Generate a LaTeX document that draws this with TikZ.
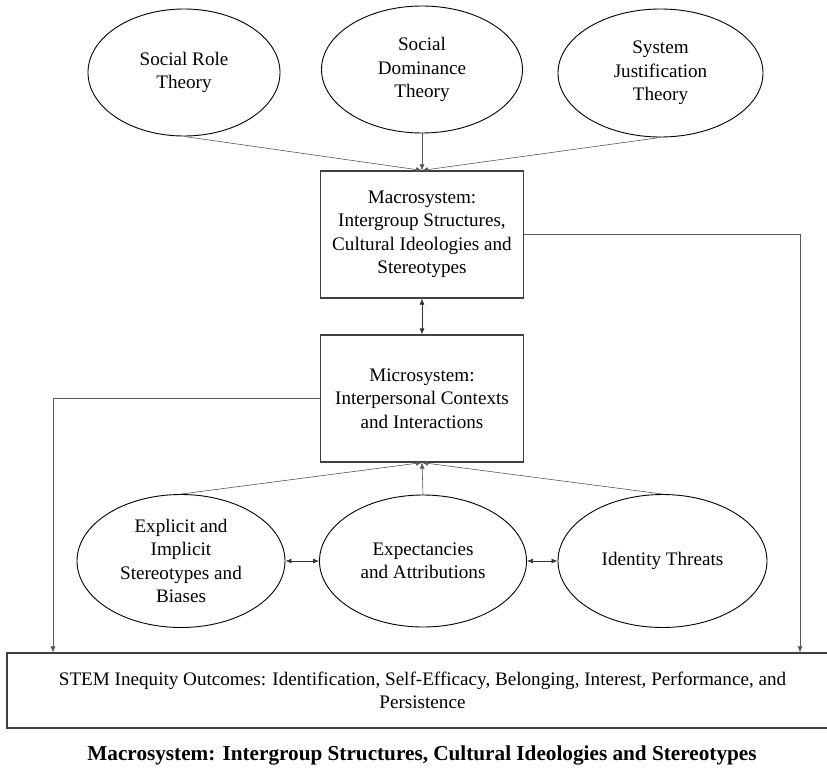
\documentclass[tikz,border=0pt]{standalone}
\usepackage{fontspec}
\setmainfont{Liberation Serif}
\usetikzlibrary{shapes.geometric,arrows.meta}
\begin{document}
\begin{tikzpicture}[x=1bp,y=-1bp,
  every node/.style={font=\fontsize{19.2}{23.5}\selectfont},
  theory/.style={draw=black, line width=0.9bp, ellipse, inner sep=0pt, align=center},
  sysbox/.style={draw=black!75, line width=1.2bp, rectangle, align=center, minimum width=203bp, minimum height=127bp, inner sep=0pt},
  conn/.style={draw=black!65, line width=0.6bp, -{Latex[length=6bp,width=5bp]}},
  dconn/.style={draw=black!80, line width=0.7bp, {Latex[length=6bp,width=5bp]}-{Latex[length=6bp,width=5bp]}}
]
\useasboundingbox[fill=white] (0,0) rectangle (827,768);

% top theories
\node[theory, minimum width=192bp, minimum height=127bp] (sr) at (184,72.5) {Social Role\\Theory};
\node[theory, minimum width=201bp, minimum height=127bp] (sd) at (422,69.5) {Social\\Dominance\\Theory};
\node[theory, minimum width=205bp, minimum height=128bp] (sj) at (660.5,73) {System\\Justification\\Theory};

% system boxes
\node[sysbox] (macro) at (422,234.5) {Macrosystem:\\Intergroup Structures,\\Cultural Ideologies and\\Stereotypes};
\node[sysbox] (micro) at (422,398.5) {Microsystem:\\Interpersonal Contexts\\and Interactions};

% bottom ellipses
\node[theory, minimum width=208bp, minimum height=133bp] (ex) at (181,561) {Explicit and\\Implicit\\Stereotypes and\\Biases};
\node[theory, minimum width=207bp, minimum height=132bp] (exp) at (423,561) {Expectancies\\and Attributions};
\node[theory, minimum width=209bp, minimum height=133bp] (id) at (662.5,561) {Identity Threats};

% outcome box
\node[draw=black!75, line width=1.2bp, rectangle, align=center, minimum width=831bp, minimum height=75bp, inner sep=0pt] (out) at (422.5,690.5)
  {STEM Inequity Outcomes: Identification, Self-Efficacy, Belonging, Interest, Performance, and\\Persistence};

% caption
\node[font=\fontsize{21.3}{25}\selectfont\bfseries] (cap) at (422,755) {Macrosystem: Intergroup Structures, Cultural Ideologies and Stereotypes};

% free-end coordinates for the side connectors
\coordinate (lx) at (53,0);
\coordinate (rx) at (800,0);

% connectors
\draw[conn] (sr.south) -- (macro.north);
\draw[conn] (sd.south) -- (macro.north);
\draw[conn] (sj.south) -- (macro.north);
\draw[dconn] (macro.south) -- (micro.north);
\draw[conn] (ex.north) -- (micro.south);
\draw[conn] (exp.north) -- (micro.south);
\draw[conn] (id.north) -- (micro.south);
\draw[dconn] (ex.east) -- (exp.west);
\draw[dconn] (exp.east) -- (id.west);
\draw[conn] (micro.west) -| (lx |- out.north);
\draw[conn] (macro.east) -| (rx |- out.north);
\end{tikzpicture}
\end{document}
